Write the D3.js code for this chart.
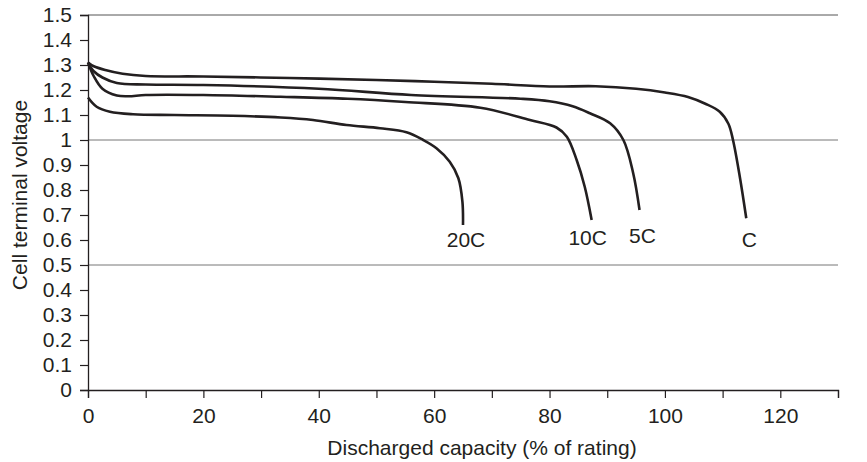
<!DOCTYPE html>
<html><head><meta charset="utf-8">
<script src="https://cdn.jsdelivr.net/npm/d3@7"></script>
<style>
html,body{margin:0;padding:0;background:#fff;}
svg{display:block;font-family:"Liberation Sans",Arial,Helvetica,sans-serif;}
</style></head>
<body><svg id="chart" width="867" height="462"></svg>
<script>
const seriesNames = ["C", "5C", "10C", "20C"];
const capC   = [0, 1, 3, 6, 10, 20, 35, 50, 60, 70, 80, 88, 95, 100, 104, 107, 109.5, 111, 111.8, 113, 114.1];
const voltC  = [1.31, 1.295, 1.28, 1.265, 1.256, 1.254, 1.248, 1.24, 1.233, 1.225, 1.214, 1.215, 1.205, 1.19, 1.172, 1.145, 1.113, 1.065, 1.0, 0.85, 0.687];
const cap5C  = [0, 1, 2.5, 5, 10, 20, 40, 56, 75, 80, 84, 87, 90.5, 92.8, 94.5, 95.6];
const volt5C = [1.31, 1.275, 1.25, 1.228, 1.222, 1.22, 1.205, 1.18, 1.165, 1.155, 1.135, 1.107, 1.067, 1.0, 0.867, 0.72];
const cap10C  = [0, 1, 2.5, 5, 7, 10, 20, 33.4, 45, 55, 68, 76.6, 81.2, 83, 84.7, 86.1, 87.3];
const volt10C = [1.31, 1.255, 1.205, 1.178, 1.175, 1.18, 1.18, 1.173, 1.165, 1.152, 1.129, 1.08, 1.05, 1.013, 0.92, 0.813, 0.68];
const cap20C  = [0, 1.5, 3.8, 7.8, 15, 25, 33.4, 39, 44.8, 50.6, 55.2, 58.1, 60.4, 62.7, 64.2, 64.9, 65];
const volt20C = [1.17, 1.133, 1.113, 1.103, 1.1, 1.097, 1.09, 1.08, 1.06, 1.047, 1.031, 1.0, 0.967, 0.913, 0.847, 0.753, 0.66];
const xTicks = [0, 10, 20, 30, 40, 50, 60, 70, 80, 90, 100, 110, 120, 130];
const xTickLabels = ["0", "", "20", "", "40", "", "60", "", "80", "", "100", "", "120", ""];
const yTicks = [0, 0.1, 0.2, 0.3, 0.4, 0.5, 0.6, 0.7, 0.8, 0.9, 1, 1.1, 1.2, 1.3, 1.4, 1.5];
const yTickLabels = ["0", "0.1", "0.2", "0.3", "0.4", "0.5", "0.6", "0.7", "0.8", "0.9", "1", "1.1", "1.2", "1.3", "1.4", "1.5"];
const gridValues = [0.5, 1.0, 1.5];
const xTitle = "Discharged capacity (% of rating)";
const yTitle = "Cell terminal voltage";

const series = [
  {name: "C", x: capC, y: voltC},
  {name: "5C", x: cap5C, y: volt5C},
  {name: "10C", x: cap10C, y: volt10C},
  {name: "20C", x: cap20C, y: volt20C}
];
// label offsets (pixels) from each curve's end point
const labelOffset = {"C": [3, 21], "5C": [3, 26], "10C": [-4, 18], "20C": [3, 15]};

const svg = d3.select("#chart");
const m = {left: 88, right: 29, top: 15, bottom: 72};
const W = 867, H = 462;
const x = d3.scaleLinear().domain([0, 130]).range([m.left, W - m.right]);
const y = d3.scaleLinear().domain([0, 1.5]).range([H - m.bottom, m.top]);
const ink = "#231f20";
const FS = "21px";

// gridlines
svg.append("g").selectAll("line").data(gridValues).join("line")
  .attr("x1", x(0)).attr("x2", x(130))
  .attr("y1", d => y(d)).attr("y2", d => y(d))
  .attr("stroke", d => d === 1.5 ? "#555" : "#777").attr("stroke-width", 1);

// axes
const xAxis = d3.axisBottom(x).tickValues(xTicks).tickSizeOuter(0).tickSize(8).tickPadding(10)
  .tickFormat((d, i) => xTickLabels[i]);
const gx = svg.append("g").attr("transform", `translate(0,${y(0)})`).call(xAxis);
const yAxis = d3.axisLeft(y).tickValues(yTicks).tickSizeOuter(0).tickSize(8).tickPadding(8)
  .tickFormat((d, i) => yTickLabels[i]);
const gy = svg.append("g").attr("transform", `translate(${x(0)},0)`).call(yAxis);
[gx, gy].forEach(g => {
  g.select(".domain").attr("stroke", ink).attr("stroke-width", 1.3);
  g.selectAll(".tick line").attr("stroke", ink).attr("stroke-width", 1.2);
  g.selectAll(".tick text").attr("fill", ink).style("font-size", FS)
    .style("font-family", "'Liberation Sans', Arial, sans-serif");
});

// curves
const line = d3.line().x(d => x(d[0])).y(d => y(d[1])).curve(d3.curveCatmullRom.alpha(0.5));
svg.append("g").selectAll("path").data(series).join("path")
  .attr("d", s => line(s.x.map((v, i) => [v, s.y[i]])))
  .attr("fill", "none").attr("stroke", ink).attr("stroke-width", 2.6)
  .attr("stroke-linejoin", "round").attr("stroke-linecap", "butt");

// labels
svg.append("g").selectAll("text").data(series).join("text")
  .attr("x", s => x(s.x[s.x.length - 1]) + labelOffset[s.name][0])
  .attr("y", s => y(s.y[s.y.length - 1]) + labelOffset[s.name][1])
  .attr("dy", "0.35em").attr("text-anchor", "middle")
  .attr("fill", ink).style("font-size", FS)
  .text(s => s.name);

// titles
svg.append("text").attr("x", 482).attr("y", 455).attr("text-anchor", "middle")
  .attr("fill", ink).style("font-size", FS).text(xTitle);
svg.append("text").attr("transform", `translate(27,195) rotate(-90)`)
  .attr("text-anchor", "middle").attr("fill", ink).style("font-size", FS).text(yTitle);
</script></body></html>
